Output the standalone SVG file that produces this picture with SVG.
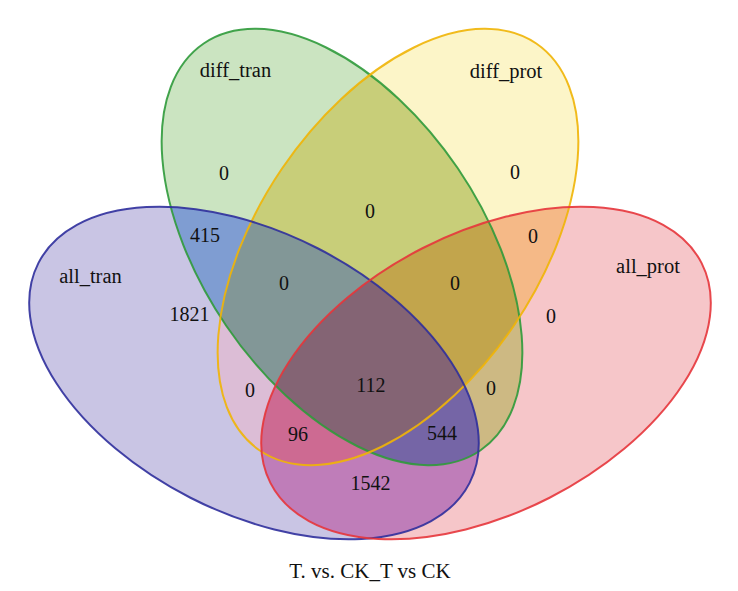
<svg xmlns="http://www.w3.org/2000/svg" xmlns:xlink="http://www.w3.org/1999/xlink" width="738" height="591" viewBox="0 0 738 591">
  <style>
    text { font-family: "Liberation Serif", "Times New Roman", serif; fill: #111; text-anchor: middle; }
    .lbl { font-size: 20.5px; }
    .num { font-size: 20px; }
    .cap { font-size: 21px; }
    .edge { fill: none; stroke-width: 2; stroke-opacity: 0.9; }
  </style>
  <defs>
    <ellipse id="eB" cx="0" cy="0" rx="242" ry="140" transform="translate(254 373) rotate(27)"/>
    <ellipse id="eR" cx="0" cy="0" rx="242" ry="140" transform="translate(486 373) rotate(-27)"/>
    <ellipse id="eG" cx="0" cy="0" rx="246" ry="140" transform="translate(342 247) rotate(55.8)"/>
    <ellipse id="eY" cx="0" cy="0" rx="246" ry="140" transform="translate(398 247) rotate(-55.8)"/>
    <clipPath id="cB"><ellipse cx="0" cy="0" rx="242" ry="140" transform="translate(254 373) rotate(27)"/></clipPath>
    <clipPath id="cR"><ellipse cx="0" cy="0" rx="242" ry="140" transform="translate(486 373) rotate(-27)"/></clipPath>
    <clipPath id="cG"><ellipse cx="0" cy="0" rx="246" ry="140" transform="translate(342 247) rotate(55.8)"/></clipPath>
    <clipPath id="cY"><ellipse cx="0" cy="0" rx="246" ry="140" transform="translate(398 247) rotate(-55.8)"/></clipPath>
  </defs>
  <rect width="738" height="591" fill="#ffffff"/>

  <g id="region-fills">
    <use xlink:href="#eB" fill="#c9c5e4"/>
    <use xlink:href="#eR" fill="#f6c6c9"/>
    <use xlink:href="#eG" fill="#cbe4c1"/>
    <use xlink:href="#eY" fill="#fcf5c8"/>
    <g clip-path="url(#cB)"><use xlink:href="#eG" fill="#7f9dd2"/></g>
    <g clip-path="url(#cB)"><use xlink:href="#eY" fill="#dcbdd6"/></g>
    <g clip-path="url(#cB)"><use xlink:href="#eR" fill="#bf7db9"/></g>
    <g clip-path="url(#cG)"><use xlink:href="#eY" fill="#c8ce79"/></g>
    <g clip-path="url(#cG)"><use xlink:href="#eR" fill="#cdb983"/></g>
    <g clip-path="url(#cY)"><use xlink:href="#eR" fill="#f5b987"/></g>
    <g clip-path="url(#cB)"><g clip-path="url(#cG)"><use xlink:href="#eY" fill="#829797"/></g></g>
    <g clip-path="url(#cB)"><g clip-path="url(#cG)"><use xlink:href="#eR" fill="#7565a6"/></g></g>
    <g clip-path="url(#cB)"><g clip-path="url(#cY)"><use xlink:href="#eR" fill="#cd6a92"/></g></g>
    <g clip-path="url(#cG)"><g clip-path="url(#cY)"><use xlink:href="#eR" fill="#c2a54c"/></g></g>
    <g clip-path="url(#cB)"><g clip-path="url(#cG)"><g clip-path="url(#cY)"><use xlink:href="#eR" fill="#846474"/></g></g></g>
  </g>

  <g id="node-diff_tran">
    <use xlink:href="#eG" class="edge" stroke="#2f9a3b"/>
    <text class="lbl" x="235.5" y="77">diff_tran</text>
  </g>
  <g id="node-diff_prot">
    <use xlink:href="#eY" class="edge" stroke="#f0b406"/>
    <text class="lbl" x="506" y="78">diff_prot</text>
  </g>
  <g id="node-all_tran">
    <use xlink:href="#eB" class="edge" stroke="#2f2f9c"/>
    <text class="lbl" x="90.5" y="283">all_tran</text>
  </g>
  <g id="node-all_prot">
    <use xlink:href="#eR" class="edge" stroke="#e6353b"/>
    <text class="lbl" x="648" y="273">all_prot</text>
  </g>

  <g id="counts">
    <text class="num" x="224" y="180">0</text>
    <text class="num" x="370" y="218">0</text>
    <text class="num" x="515" y="179">0</text>
    <text class="num" x="205" y="242">415</text>
    <text class="num" x="533" y="243">0</text>
    <text class="num" x="284" y="290">0</text>
    <text class="num" x="455" y="290">0</text>
    <text class="num" x="189.5" y="321">1821</text>
    <text class="num" x="551" y="323">0</text>
    <text class="num" x="250" y="397">0</text>
    <text class="num" x="371" y="392">112</text>
    <text class="num" x="491" y="395">0</text>
    <text class="num" x="298" y="441">96</text>
    <text class="num" x="442" y="440">544</text>
    <text class="num" x="370.5" y="490">1542</text>
  </g>

  <text id="caption" class="cap" x="370" y="578">T. vs. CK_T vs CK</text>
</svg>
